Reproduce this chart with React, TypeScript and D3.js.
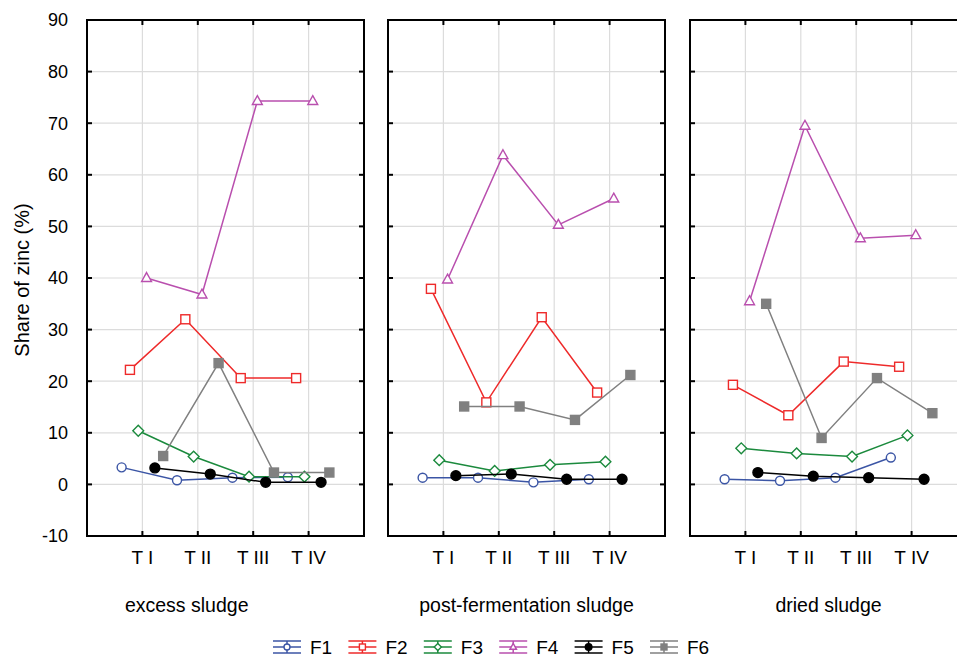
import { useRef, useEffect } from 'react';
import * as d3 from 'd3';

// data
const stages = ['T I', 'T II', 'T III', 'T IV'];
const panels = ['excess sludge', 'post-fermentation sludge', 'dried sludge'];
const fractions = ['F1', 'F2', 'F3', 'F4', 'F5', 'F6'];
const yTicks = [-10, 0, 10, 20, 30, 40, 50, 60, 70, 80, 90];

// values per panel, one row per fraction
const excess = [
  [3.3, 0.8, 1.3, 1.4],
  [22.2, 32.0, 20.6, 20.6],
  [10.4, 5.4, 1.5, 1.5],
  [40.0, 36.8, 74.3, 74.3],
  [3.2, 2.0, 0.4, 0.4],
  [5.5, 23.5, 2.3, 2.3],
];
const postFermentation = [
  [1.3, 1.3, 0.4, 1.0],
  [37.9, 15.9, 32.4, 17.8],
  [4.7, 2.6, 3.8, 4.4],
  [39.7, 63.8, 50.3, 55.4],
  [1.7, 2.0, 1.0, 1.0],
  [15.1, 15.1, 12.5, 21.2],
];
const dried = [
  [1.0, 0.7, 1.3, 5.2],
  [19.3, 13.4, 23.8, 22.8],
  [7.0, 6.0, 5.4, 9.5],
  [35.5, 69.5, 47.7, 48.3],
  [2.3, 1.6, 1.3, 1.0],
  [35.0, 9.0, 20.6, 13.8],
];
const panelData = [excess, postFermentation, dried];

const colors = ['#3b55a5', '#ee2a2a', '#1b8a3d', '#b94fae', '#000000', '#808080'];
const shapes = ['circle', 'square', 'diamond', 'triangle', 'dot', 'block'];

const W = 957;
const H = 657;
const top = 20;
const bottom = 536;
const panelLeft = [87, 388, 690];
const panelW = 277;
const titlePos = [1.8, 2.5, 2.5];
const font = 'Liberation Sans, Arial, sans-serif';

function drawMarker(g, shape, color, x, y, s) {
  if (shape === 'circle' || shape === 'dot') {
    g.append('circle').attr('cx', x).attr('cy', y).attr('r', shape === 'dot' ? s * 0.55 : s * 0.5)
      .attr('fill', shape === 'dot' ? color : '#fff').attr('stroke', color).attr('stroke-width', 1.4);
  } else if (shape === 'square' || shape === 'block') {
    g.append('rect').attr('x', x - s / 2).attr('y', y - s / 2).attr('width', s).attr('height', s)
      .attr('fill', shape === 'block' ? color : '#fff').attr('stroke', color).attr('stroke-width', 1.4);
  } else if (shape === 'diamond') {
    const r = s * 0.6;
    g.append('path').attr('d', `M${x},${y - r}L${x + r},${y}L${x},${y + r}L${x - r},${y}Z`)
      .attr('fill', '#fff').attr('stroke', color).attr('stroke-width', 1.4);
  } else {
    const r = s * 0.55;
    g.append('path').attr('d', `M${x},${y - r * 1.1}L${x + r},${y + r * 0.7}L${x - r},${y + r * 0.7}Z`)
      .attr('fill', '#fff').attr('stroke', color).attr('stroke-width', 1.4);
  }
}

const App = () => {
  const ref = useRef(null);

  useEffect(() => {
    const svg = d3.select(ref.current);
    svg.selectAll('*').remove();

    const y = d3.scaleLinear().domain([-10, 90]).range([bottom, top]);

    panelData.forEach((rows, p) => {
      const x = d3.scaleLinear().domain([0, 5]).range([panelLeft[p], panelLeft[p] + panelW]);
      const g = svg.append('g');

      // grid
      g.selectAll('.gy').data(yTicks).enter().append('line')
        .attr('x1', x(0)).attr('x2', x(5)).attr('y1', d => y(d)).attr('y2', d => y(d))
        .attr('stroke', '#dcdcdc').attr('stroke-width', 1.2);
      g.selectAll('.gx').data(d3.range(1, 5)).enter().append('line')
        .attr('x1', d => x(d)).attr('x2', d => x(d)).attr('y1', top).attr('y2', bottom)
        .attr('stroke', '#dcdcdc').attr('stroke-width', 1.2);

      // series
      rows.forEach((vals, i) => {
        const off = (i - 2.5) * 0.15;
        const pts = vals.map((v, k) => [x(k + 1 + off), y(v)]);
        g.append('path').attr('d', d3.line()(pts)).attr('fill', 'none')
          .attr('stroke', colors[i]).attr('stroke-width', 1.5);
        pts.forEach(([px, py]) => drawMarker(g, shapes[i], colors[i], px, py, 9));
      });

      // frame and inward ticks
      g.append('rect').attr('x', x(0)).attr('y', top).attr('width', panelW).attr('height', bottom - top)
        .attr('fill', 'none').attr('stroke', '#000').attr('stroke-width', 2);
      yTicks.forEach(t => {
        g.append('line').attr('x1', x(0)).attr('x2', x(0) + 5).attr('y1', y(t)).attr('y2', y(t)).attr('stroke', '#000').attr('stroke-width', 2);
        g.append('line').attr('x1', x(5)).attr('x2', x(5) - 5).attr('y1', y(t)).attr('y2', y(t)).attr('stroke', '#000').attr('stroke-width', 2);
      });
      d3.range(1, 5).forEach(t => {
        g.append('line').attr('x1', x(t)).attr('x2', x(t)).attr('y1', top).attr('y2', top + 5).attr('stroke', '#000').attr('stroke-width', 2);
        g.append('line').attr('x1', x(t)).attr('x2', x(t)).attr('y1', bottom).attr('y2', bottom - 5).attr('stroke', '#000').attr('stroke-width', 2);
      });

      // x labels
      stages.forEach((s, k) => {
        g.append('text').attr('x', x(k + 1)).attr('y', bottom + 28).attr('text-anchor', 'middle')
          .attr('font-family', font).attr('font-size', 19).text(s);
      });
      g.append('text').attr('x', x(titlePos[p])).attr('y', bottom + 76).attr('text-anchor', 'middle')
        .attr('font-family', font).attr('font-size', 19.5).text(panels[p]);

      if (p === 0) {
        yTicks.forEach(t => {
          g.append('text').attr('x', x(0) - 19).attr('y', y(t)).attr('dy', '0.36em').attr('text-anchor', 'end')
            .attr('font-family', font).attr('font-size', 18).text(t);
        });
      }
    });

    svg.append('text').attr('transform', `translate(29,${(top + bottom) / 2 + 2}) rotate(-90)`)
      .attr('text-anchor', 'middle').attr('font-family', font).attr('font-size', 20)
      .text('Share of zinc (%)');

    // legend
    const legX = d3.scaleLinear().domain([0, 5]).range([273, 650]);
    const ly = 647;
    fractions.forEach((f, i) => {
      const lx = legX(i);
      const lg = svg.append('g');
      [-6, 0, 6].forEach(dy => {
        lg.append('line').attr('x1', lx).attr('x2', lx + 28).attr('y1', ly + dy).attr('y2', ly + dy)
          .attr('stroke', colors[i]).attr('stroke-width', 1.5);
      });
      lg.append('line').attr('x1', lx + 14).attr('x2', lx + 14).attr('y1', ly - 6).attr('y2', ly + 6)
        .attr('stroke', colors[i]).attr('stroke-width', 1.5);
      drawMarker(lg, shapes[i], colors[i], lx + 14, ly, 6);
      lg.append('text').attr('x', lx + 37).attr('y', ly).attr('dy', '0.36em')
        .attr('font-family', font).attr('font-size', 19).text(f);
    });
  }, []);

  return (
    <svg ref={ref} width={W} height={H} style={{ position: 'absolute', left: 0, top: 0, background: '#fff' }} />
  );
};

export default App;
